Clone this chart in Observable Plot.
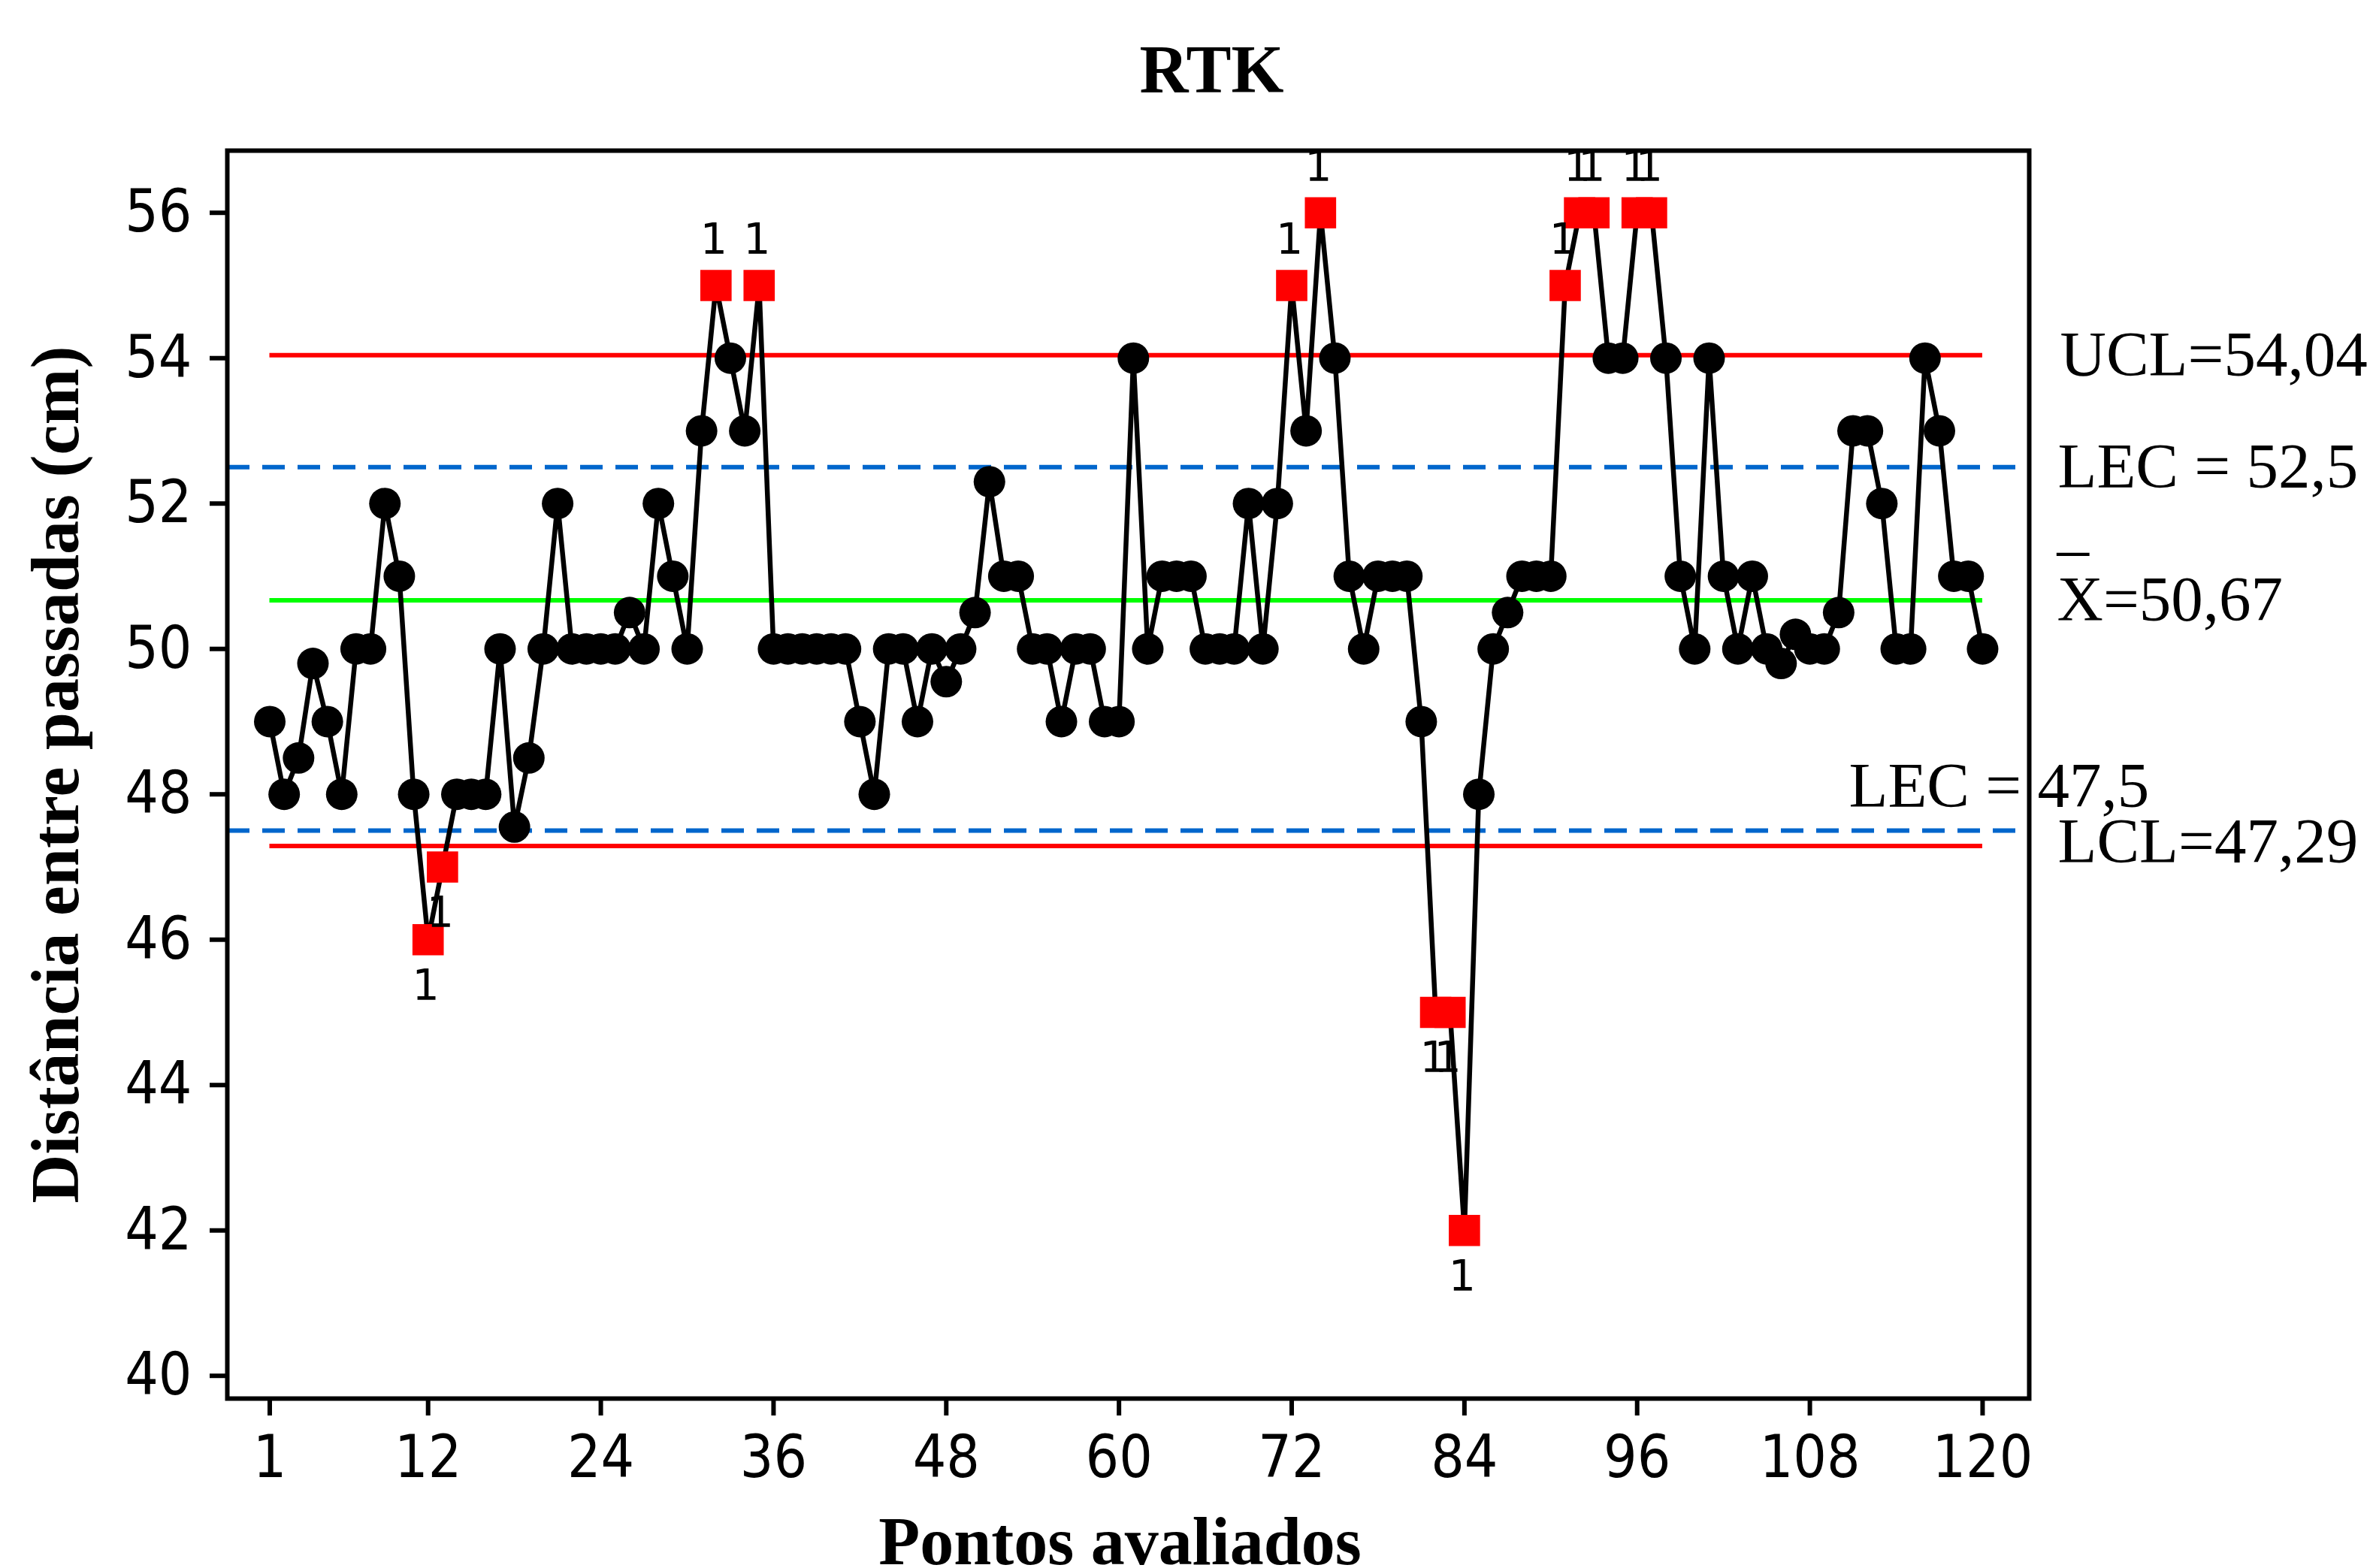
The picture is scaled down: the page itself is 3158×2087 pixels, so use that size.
<!DOCTYPE html>
<html>
<head>
<meta charset="utf-8">
<script src="https://cdn.jsdelivr.net/npm/d3@7"></script>
<script src="https://cdn.jsdelivr.net/npm/@observablehq/plot@0.6"></script>
<style>
  html, body { margin: 0; padding: 0; background: #ffffff; }
  #chart svg { display: block; }
  .cond text { font-stretch: condensed; }
</style>
</head>
<body>
<div id="chart"></div>
<script>
// ---------- data ----------
const pointNumbers = d3.range(1, 121);
const distances = [
  49, 48, 48.5, 49.8, 49, 48, 50, 50, 52, 51,
  48, 46, 47, 48, 48, 48, 50, 47.55, 48.5, 50,
  52, 50, 50, 50, 50, 50.5, 50, 52, 51, 50,
  53, 55, 54, 53, 55, 50, 50, 50, 50, 50,
  50, 49, 48, 50, 50, 49, 50, 49.55, 50, 50.5,
  52.3, 51, 51, 50, 50, 49, 50, 50, 49, 49,
  54, 50, 51, 51, 51, 50, 50, 50, 52, 50,
  52, 55, 53, 56, 54, 51, 50, 51, 51, 51,
  49, 45, 45, 42, 48, 50, 50.5, 51, 51, 51,
  55, 56, 56, 54, 54, 56, 56, 54, 51, 50,
  54, 51, 50, 51, 50, 49.8, 50.2, 50, 50, 50.5,
  53, 53, 52, 50, 50, 54, 53, 51, 51, 50
];
const xTicks = [1, 12, 24, 36, 48, 60, 72, 84, 96, 108, 120];
const yTicks = [40, 42, 44, 46, 48, 50, 52, 54, 56];
const UCL = 54.04;
const LCL = 47.29;
const MEAN = 50.67;
const LEC_UPPER = 52.5;
const LEC_LOWER = 47.5;
const labelUCL = "UCL=54,04";
const labelLECUpper = "LEC = 52,5";
const labelMean = "X=50,67";
const labelLECLower = "LEC = 47,5";
const labelLCL = "LCL=47,29";
const titleText = "RTK";
const xLabel = "Pontos avaliados";
const yLabel = "Distância entre passadas (cm)";
const flagText = "1";

// ---------- build ----------
const data = pointNumbers.map((n, i) => ({n, v: distances[i]}));
const isOut = d => d.v > UCL || d.v < LCL;
const normal = data.filter(d => !isOut(d));
const outHigh = data.filter(d => isOut(d) && d.v > MEAN);
const outLow = data.filter(d => isOut(d) && d.v < MEAN);

const serif = "'Liberation Serif', 'Times New Roman', serif";
const sans = "'DejaVu Sans', sans-serif";

const chart = Plot.plot({
  width: 3158,
  height: 2087,
  marginLeft: 302,
  marginRight: 458,
  marginTop: 200,
  marginBottom: 226,
  style: {background: "#ffffff", fontFamily: sans, fontSize: "78px", color: "#000", overflow: "visible"},
  x: {domain: [-1.95, 123.24], axis: null},
  y: {domain: [39.687, 56.855], axis: null},
  marks: [
    Plot.axisX({ticks: xTicks, tickSize: 23, tickPadding: 26, strokeWidth: 6, label: null, className: "cond", tickFormat: d => String(d)}),
    Plot.axisY({ticks: yTicks, tickSize: 23, tickPadding: 24, strokeWidth: 6, label: null, className: "cond", tickFormat: d => String(d)}),
    Plot.ruleY([LEC_UPPER, LEC_LOWER], {stroke: "#0066cc", strokeWidth: 6, strokeDasharray: "30,17"}),
    Plot.ruleY([UCL, LCL], {x1: 1, x2: 120, stroke: "#ff0000", strokeWidth: 6}),
    Plot.ruleY([MEAN], {x1: 1, x2: 120, stroke: "#00ff00", strokeWidth: 6}),
    Plot.line(data, {x: "n", y: "v", stroke: "#000000", strokeWidth: 6.5}),
    Plot.dot(normal, {x: "n", y: "v", r: 21, fill: "#000000"}),
    Plot.dot([...outHigh, ...outLow], {x: "n", y: "v", symbol: "square", r: 23.5, fill: "#ff0000"}),
    Plot.text(outHigh, {x: "n", y: "v", text: () => flagText, dx: -3, dy: -42, lineAnchor: "bottom", fontSize: 57, fontFamily: sans}),
    Plot.text(outLow, {x: "n", y: "v", text: () => flagText, dx: -3, dy: 80, lineAnchor: "bottom", fontSize: 57, fontFamily: sans}),
    Plot.frame({stroke: "#000000", strokeWidth: 6}),
    // control-limit labels
    Plot.text([UCL], {y: d => d, text: () => labelUCL, frameAnchor: "right", dx: 41, textAnchor: "start", lineAnchor: "middle", fontSize: 85, fontFamily: serif}),
    Plot.text([LEC_UPPER], {y: d => d, text: () => labelLECUpper, frameAnchor: "right", dx: 38, textAnchor: "start", lineAnchor: "middle", fontSize: 85, fontFamily: serif}),
    Plot.text([MEAN], {y: d => d, text: () => labelMean, frameAnchor: "right", dx: 37, textAnchor: "start", lineAnchor: "middle", fontSize: 85, fontFamily: serif}),
    Plot.text([MEAN], {y: d => d, text: () => "_", frameAnchor: "right", dx: 37, dy: -70, textAnchor: "start", lineAnchor: "bottom", fontSize: 85, fontFamily: serif}),
    Plot.text([LEC_LOWER], {y: d => d, text: () => labelLECLower, frameAnchor: "right", dx: -240, dy: -59, textAnchor: "start", lineAnchor: "middle", fontSize: 85, fontFamily: serif}),
    Plot.text([LCL], {y: d => d, text: () => labelLCL, frameAnchor: "right", dx: 38, dy: -5, textAnchor: "start", lineAnchor: "middle", fontSize: 85, fontFamily: serif}),
    // titles
    Plot.text([titleText], {text: d => d, frameAnchor: "top", dx: 111, dy: -78, lineAnchor: "bottom", fontSize: 90, fontWeight: "bold", fontFamily: serif}),
    Plot.text([xLabel], {text: d => d, frameAnchor: "bottom", dx: -11, dy: 220, lineAnchor: "bottom", fontSize: 90, fontWeight: "bold", fontFamily: serif}),
    Plot.text([yLabel], {text: d => d, frameAnchor: "left", dx: -199, rotate: -90, lineAnchor: "bottom", textAnchor: "middle", fontSize: 90, fontWeight: "bold", fontFamily: serif})
  ]
});
document.getElementById("chart").appendChild(chart);
</script>
</body>
</html>
